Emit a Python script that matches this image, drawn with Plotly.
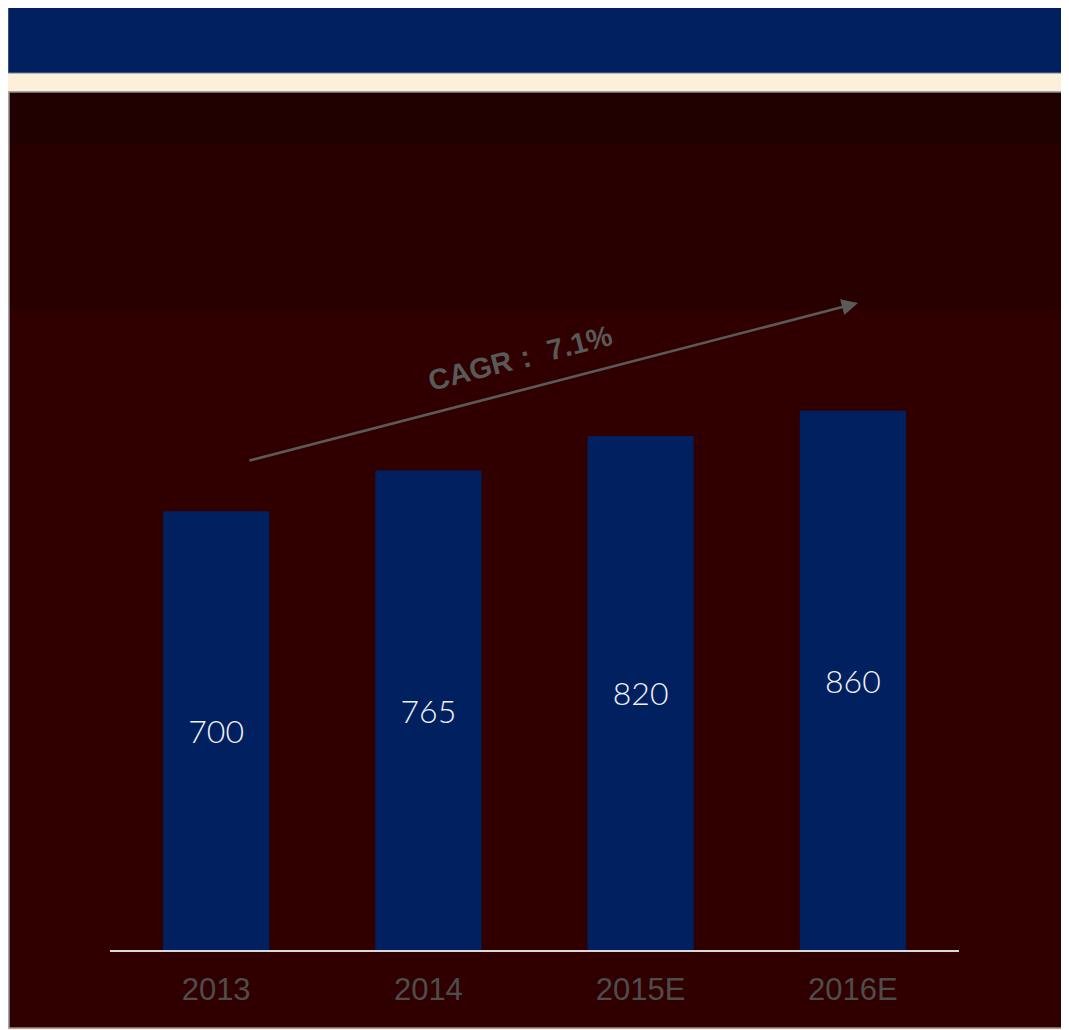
import plotly.graph_objects as go

# ---- data ----
categories = ["2013", "2014", "2015E", "2016E"]
values = [700, 765, 820, 860]
cagr_label = "CAGR： 7.1%"

# ---- geometry (pixels, page has an 8px body margin) ----
OFF = 8
W, H = 1069 - OFF, 1030 - OFF
PLOT_L, PLOT_R, PLOT_T, PLOT_B = 110, 959, 150, 950   # viewport px
ML, MT = PLOT_L - OFF, PLOT_T - OFF
MR, MB = W - (PLOT_R - OFF), H - (PLOT_B - OFF)
PW, PH = W - ML - MR, H - MT - MB
YMAX = 1276


def px_x(px):
    return (px - OFF - ML) / PW


def px_y(py):
    return (H - MB - (py - OFF)) / PH


fig = go.Figure()
fig.add_trace(go.Bar(
    x=categories, y=values,
    marker=dict(color="#002060", line=dict(width=0)),
    width=0.5,
    text=[str(v) for v in values],
    textposition="inside",
    insidetextanchor="middle",
    textfont=dict(family="Lato, Liberation Sans, sans-serif", size=32,
                  color="#f2f2f2", weight=300),
    textangle=0,
    hoverinfo="skip",
))

shapes = []
# dark panel
shapes.append(dict(type="rect", xref="paper", yref="paper", layer="below",
                   x0=px_x(9), x1=px_x(1067), y0=px_y(1028), y1=px_y(92),
                   fillcolor="#300000", line=dict(color="#8c8c8c", width=1.5)))
shapes.append(dict(type="rect", xref="paper", yref="paper", layer="below",
                   x0=px_x(10), x1=px_x(1066), y0=px_y(310), y1=px_y(145),
                   fillcolor="#290000", line=dict(width=0)))
shapes.append(dict(type="rect", xref="paper", yref="paper", layer="below",
                   x0=px_x(10), x1=px_x(1066), y0=px_y(145), y1=px_y(93),
                   fillcolor="#210000", line=dict(width=0)))
# navy header band
shapes.append(dict(type="rect", xref="paper", yref="paper", layer="below",
                   x0=px_x(8), x1=px_x(1072), y0=px_y(73), y1=px_y(5),
                   fillcolor="#002060", line=dict(color="#7a7f90", width=1)))

fig.update_layout(
    width=W, height=H,
    margin=dict(l=ML, r=MR, t=MT, b=MB, pad=0),
    paper_bgcolor="#FDF0DB",
    plot_bgcolor="rgba(0,0,0,0)",
    showlegend=False,
    bargap=0.5,
    shapes=shapes,
    xaxis=dict(
        type="category", range=[-0.5, 3.5],
        showgrid=False, zeroline=False,
        showline=True, linecolor="#d9d9d9", linewidth=2,
        ticks="outside", ticklen=11, tickcolor="rgba(0,0,0,0)",
        tickfont=dict(family="Liberation Sans, Arial, sans-serif", size=31, color="#4d4d4d"),
    ),
    yaxis=dict(range=[0, YMAX], visible=False, showgrid=False, zeroline=False),
    annotations=[
        dict(xref="x", yref="y", axref="x", ayref="y",
             x=3.024, y=1032, ax=0.15, ay=780,
             showarrow=True, arrowhead=2, arrowsize=1.3, arrowwidth=2.5,
             arrowcolor="#5a5a5a", text=""),
        dict(xref="x", yref="y", x=1.432, y=944,
             text="<b>" + cagr_label + "</b>", showarrow=False,
             textangle=-14.3,
             font=dict(family="Liberation Sans, Arial, sans-serif", size=29, color="#595959")),
    ],
)

fig.write_html("out.html")
